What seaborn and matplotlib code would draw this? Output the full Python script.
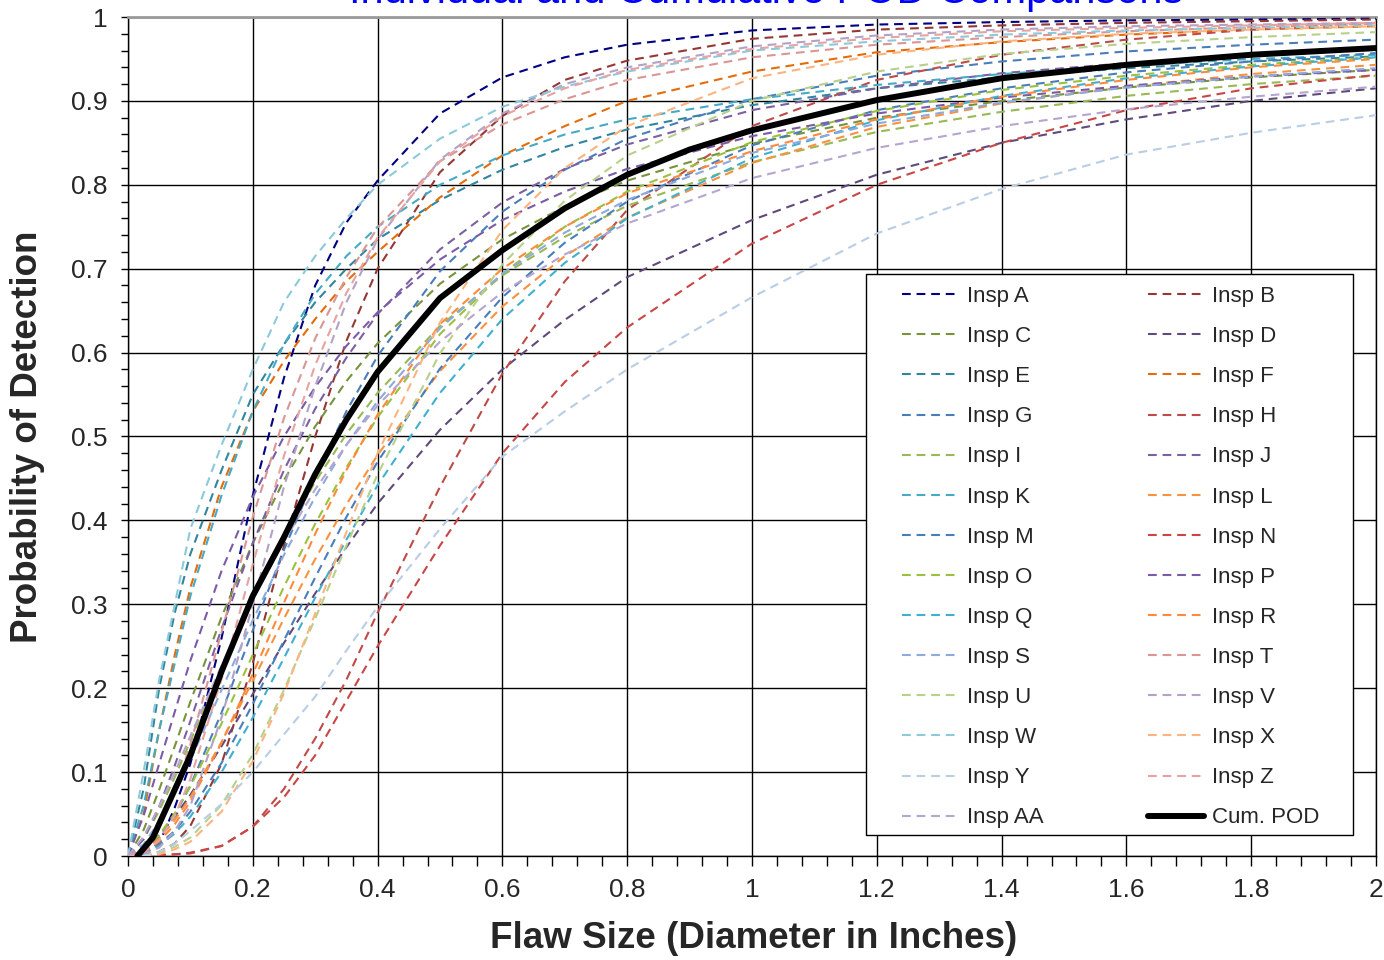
import matplotlib
matplotlib.use('Agg')
import matplotlib.pyplot as plt
from matplotlib.lines import Line2D
from matplotlib.patches import Rectangle
from matplotlib.ticker import MultipleLocator, FuncFormatter
import seaborn as sns

# Tamaño de falla (pulgadas) donde se leyeron las curvas
flaw_size = [0, 0.025, 0.05, 0.075, 0.1, 0.15, 0.2, 0.25, 0.3, 0.35, 0.4, 0.5, 0.6, 0.7, 0.8,
             1.0, 1.2, 1.4, 1.6, 1.8, 2.0]

# POD de cada inspector
insp_a = [0, 0.003, 0.015, 0.058, 0.11, 0.26, 0.43, 0.57, 0.68, 0.755, 0.805, 0.885, 0.928, 0.952, 0.967, 0.984, 0.991, 0.994, 0.996, 0.997, 0.998]
insp_b = [0, 0.001, 0.005, 0.015, 0.036, 0.11, 0.23, 0.37, 0.5, 0.614, 0.70, 0.815, 0.882, 0.925, 0.948, 0.974, 0.985, 0.99, 0.993, 0.995, 0.997]
insp_c = [0, 0.031, 0.079, 0.131, 0.184, 0.285, 0.373, 0.448, 0.512, 0.566, 0.611, 0.682, 0.735, 0.774, 0.805, 0.849, 0.88, 0.9, 0.916, 0.928, 0.937]
insp_d = [0, 0.008, 0.025, 0.047, 0.073, 0.131, 0.193, 0.254, 0.313, 0.368, 0.42, 0.508, 0.58, 0.639, 0.69, 0.758, 0.812, 0.85, 0.878, 0.9, 0.915]
insp_e = [0, 0.08, 0.2, 0.29, 0.36, 0.46, 0.55, 0.61, 0.66, 0.70, 0.735, 0.782, 0.818, 0.845, 0.866, 0.895, 0.915, 0.928, 0.939, 0.947, 0.953]
insp_f = [0, 0.05, 0.15, 0.24, 0.32, 0.44, 0.53, 0.59, 0.64, 0.685, 0.72, 0.785, 0.835, 0.87, 0.90, 0.935, 0.958, 0.970, 0.979, 0.985, 0.989]
insp_g = [0, 0.006, 0.022, 0.049, 0.084, 0.171, 0.269, 0.365, 0.453, 0.53, 0.596, 0.697, 0.768, 0.818, 0.855, 0.902, 0.93, 0.947, 0.959, 0.967, 0.973]
insp_h = [0, 0, 0.001, 0.002, 0.004, 0.012, 0.035, 0.08, 0.14, 0.21, 0.29, 0.44, 0.575, 0.685, 0.77, 0.87, 0.925, 0.955, 0.973, 0.985, 0.993]
insp_i = [0, 0.02, 0.054, 0.094, 0.137, 0.224, 0.306, 0.38, 0.446, 0.503, 0.552, 0.632, 0.692, 0.738, 0.775, 0.827, 0.863, 0.887, 0.906, 0.92, 0.93]
insp_j = [0, 0.02, 0.059, 0.108, 0.161, 0.271, 0.373, 0.46, 0.533, 0.594, 0.646, 0.723, 0.779, 0.819, 0.848, 0.889, 0.915, 0.933, 0.945, 0.954, 0.961]
insp_k = [0, 0.06, 0.15, 0.23, 0.31, 0.43, 0.53, 0.61, 0.67, 0.715, 0.75, 0.80, 0.835, 0.86, 0.878, 0.902, 0.919, 0.932, 0.942, 0.95, 0.955]
insp_l = [0, 0.006, 0.021, 0.043, 0.07, 0.136, 0.209, 0.283, 0.354, 0.419, 0.478, 0.578, 0.655, 0.715, 0.761, 0.826, 0.869, 0.897, 0.917, 0.932, 0.943]
insp_m = [0, 0.003, 0.014, 0.03, 0.053, 0.111, 0.181, 0.257, 0.332, 0.404, 0.47, 0.581, 0.666, 0.731, 0.78, 0.847, 0.889, 0.915, 0.934, 0.947, 0.957]
insp_n = [0, 0, 0.001, 0.002, 0.003, 0.012, 0.035, 0.07, 0.12, 0.185, 0.25, 0.37, 0.48, 0.565, 0.63, 0.73, 0.80, 0.85, 0.889, 0.915, 0.931]
insp_o = [0, 0.007, 0.025, 0.051, 0.083, 0.158, 0.24, 0.321, 0.396, 0.463, 0.523, 0.622, 0.694, 0.75, 0.792, 0.851, 0.888, 0.913, 0.93, 0.943, 0.952]
insp_p = [0, 0.048, 0.11, 0.172, 0.233, 0.34, 0.428, 0.5, 0.559, 0.608, 0.648, 0.711, 0.758, 0.792, 0.819, 0.858, 0.885, 0.904, 0.918, 0.929, 0.937]
insp_q = [0, 0.003, 0.012, 0.027, 0.047, 0.1, 0.165, 0.236, 0.308, 0.377, 0.442, 0.552, 0.64, 0.707, 0.76, 0.832, 0.877, 0.906, 0.927, 0.941, 0.952]
insp_r = [0, 0.004, 0.017, 0.038, 0.065, 0.135, 0.217, 0.302, 0.384, 0.46, 0.526, 0.634, 0.7, 0.75, 0.79, 0.84, 0.878, 0.905, 0.925, 0.94, 0.95]
insp_s = [0, 0.014, 0.041, 0.075, 0.114, 0.198, 0.281, 0.359, 0.428, 0.49, 0.542, 0.629, 0.694, 0.743, 0.782, 0.838, 0.873, 0.898, 0.916, 0.929, 0.939]
insp_t = [0, 0.008, 0.034, 0.077, 0.133, 0.267, 0.404, 0.522, 0.617, 0.69, 0.749, 0.828, 0.872, 0.902, 0.925, 0.952, 0.967, 0.976, 0.983, 0.988, 0.992]
insp_u = [0, 0.001, 0.004, 0.011, 0.022, 0.061, 0.121, 0.198, 0.283, 0.37, 0.455, 0.599, 0.705, 0.781, 0.835, 0.90, 0.935, 0.956, 0.968, 0.976, 0.982]
insp_v = [0, 0.002, 0.01, 0.03, 0.06, 0.165, 0.3, 0.44, 0.56, 0.66, 0.735, 0.83, 0.885, 0.92, 0.94, 0.965, 0.978, 0.985, 0.989, 0.991, 0.993]
insp_w = [0, 0.1, 0.21, 0.3, 0.39, 0.49, 0.58, 0.66, 0.715, 0.76, 0.80, 0.855, 0.893, 0.917, 0.935, 0.96, 0.971, 0.979, 0.984, 0.987, 0.99]
insp_x = [0, 0, 0.002, 0.008, 0.017, 0.053, 0.113, 0.194, 0.289, 0.386, 0.48, 0.636, 0.746, 0.82, 0.87, 0.927, 0.955, 0.971, 0.98, 0.985, 0.989]
insp_y = [0, 0, 0.005, 0.015, 0.03, 0.062, 0.1, 0.145, 0.19, 0.245, 0.297, 0.39, 0.476, 0.53, 0.58, 0.666, 0.742, 0.795, 0.836, 0.862, 0.883]
insp_z = [0, 0.004, 0.019, 0.048, 0.092, 0.211, 0.348, 0.477, 0.585, 0.671, 0.737, 0.828, 0.882, 0.915, 0.937, 0.962, 0.975, 0.983, 0.987, 0.99, 0.993]
insp_aa = [0, 0.023, 0.059, 0.1, 0.143, 0.227, 0.306, 0.375, 0.437, 0.49, 0.537, 0.613, 0.672, 0.717, 0.754, 0.808, 0.844, 0.87, 0.89, 0.905, 0.917]

# POD acumulada
cum_size = [0.015, 0.04, 0.1, 0.15, 0.2, 0.25, 0.3, 0.35, 0.4, 0.5, 0.6, 0.7, 0.8, 0.9, 1.0, 1.2, 1.4, 1.6, 1.8, 2.0]
cum_pod = [0, 0.022, 0.12, 0.22, 0.31, 0.38, 0.455, 0.52, 0.577, 0.665, 0.722, 0.772, 0.812, 0.842, 0.865, 0.901, 0.927, 0.943, 0.955, 0.963]

inspectores = ['A', 'B', 'C', 'D', 'E', 'F', 'G', 'H', 'I', 'J', 'K', 'L', 'M', 'N',
               'O', 'P', 'Q', 'R', 'S', 'T', 'U', 'V', 'W', 'X', 'Y', 'Z', 'AA']
curvas = [insp_a, insp_b, insp_c, insp_d, insp_e, insp_f, insp_g, insp_h, insp_i, insp_j,
          insp_k, insp_l, insp_m, insp_n, insp_o, insp_p, insp_q, insp_r, insp_s, insp_t,
          insp_u, insp_v, insp_w, insp_x, insp_y, insp_z, insp_aa]
colores = ['#000080', '#953735', '#77933C', '#604A7B', '#31859C', '#E46C0A', '#4A7EBB',
           '#BE4B48', '#98B954', '#7D60A0', '#46AAC5', '#F69240', '#4A7EBB', '#C84646',
           '#9BC13C', '#7B5BA8', '#3FB0CF', '#FF8A3D', '#8EA9DB', '#D99694', '#B7D08A',
           '#B3A2C7', '#8CC9DA', '#FBB37F', '#B9CDE5', '#E6A3A1', '#B5A5CF']

sns.set_style('white')
plt.rcParams['font.family'] = ['Liberation Sans', 'DejaVu Sans']

fig = plt.figure(figsize=(13.84, 9.6), dpi=100)
ax = fig.add_axes([128 / 1384, 104 / 960, 1248 / 1384, 839 / 960])

guiones = (4.2, 2.8)
handles = {}
for nombre, pod, col in zip(inspectores, curvas, colores):
    sns.lineplot(x=flaw_size, y=pod, ax=ax, color=col, lw=1.5, linestyle='--', zorder=3)
    ax.lines[-1].set_dashes(guiones)
    h = Line2D([], [], color=col, lw=1.5, linestyle='--')
    h.set_dashes(guiones)
    handles['Insp ' + nombre] = h

sns.lineplot(x=cum_size, y=cum_pod, ax=ax, color='black', lw=4.3, zorder=4)
handles['Cum. POD'] = Line2D([], [], color='black', lw=4.3)

# Ejes
ax.set_xlim(0, 2)
ax.set_ylim(0, 1)
ax.xaxis.set_major_locator(MultipleLocator(0.2))
ax.xaxis.set_minor_locator(MultipleLocator(0.04))
ax.yaxis.set_major_locator(MultipleLocator(0.1))
ax.yaxis.set_minor_locator(MultipleLocator(0.02))
fmt = FuncFormatter(lambda v, p: f'{v:g}')
ax.xaxis.set_major_formatter(fmt)
ax.yaxis.set_major_formatter(fmt)
ax.tick_params(which='both', direction='out', color='black', width=1, labelsize=19)
ax.tick_params(axis='x', which='both', length=7.5, pad=8, bottom=True)
ax.tick_params(axis='y', which='both', length=5, pad=10, left=True)
ax.grid(True, which='major', color='black', lw=1)
ax.set_axisbelow(True)
for lado in ['left', 'bottom', 'right']:
    ax.spines[lado].set_color('black')
    ax.spines[lado].set_linewidth(1)
ax.spines['top'].set_color('#9a9a9a')
ax.spines['top'].set_linewidth(2)
ax.set_xlabel('')
ax.set_ylabel('')

fig.text(754 / 1384, 1 - 938 / 960, 'Flaw Size (Diameter in Inches)', fontsize=26.5,
         fontweight='bold', ha='center', va='center')
fig.text(28 / 1384, 1 - 437 / 960, 'Probability of Detection', fontsize=26.5,
         fontweight='bold', rotation=90, ha='center', va='center')
# el título queda cortado por el borde superior, como en el original
fig.text(766 / 1384, 1 - 2.5 / 960, 'Individual and Cumulative POD Comparisons',
         fontsize=30, color='#0000FF', ha='center', va='baseline')

# Leyenda en dos columnas (orden por filas)
orden = ['Insp ' + n for n in inspectores] + ['Cum. POD']
etiquetas = orden[0::2] + orden[1::2]
ax.add_patch(Rectangle((738 / 1248, 21 / 839), 487 / 1248, 561 / 839, transform=ax.transAxes,
                       facecolor='white', edgecolor='black', lw=1, zorder=5))
leg = ax.legend([handles[e] for e in etiquetas], etiquetas, ncol=2, loc='upper left',
                bbox_to_anchor=(774 / 1248, (856 - 286) / 839), frameon=False,
                fontsize=16, handlelength=2.55, handletextpad=0.36, columnspacing=4.7,
                labelspacing=0.86, borderpad=0, borderaxespad=0)
leg.set_zorder(6)

fig.savefig('out.png', dpi=100)
